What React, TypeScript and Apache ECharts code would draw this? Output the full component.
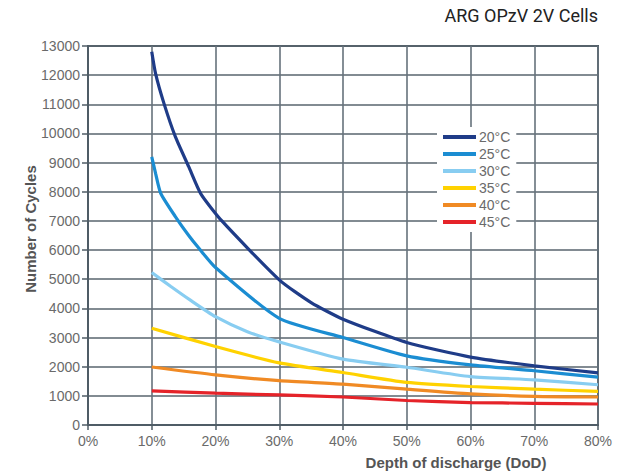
import React, { useEffect, useRef } from "react";
import * as echarts from "echarts";

const xTicks = [0, 10, 20, 30, 40, 50, 60, 70, 80];
const seriesNames = ["20°C", "25°C", "30°C", "35°C", "40°C", "45°C"];
const seriesColors = ["#1f3c88", "#1b8dd2", "#88cdf1", "#ffd200", "#f08a24", "#e52329"];

const dod20 = [10, 10.6, 11.9, 13.7, 15.8, 17.7, 21, 30, 35, 40, 50, 60, 70, 80];
const cyc20 = [12800, 12050, 11040, 9890, 8860, 7930, 7000, 4980, 4200, 3630, 2830, 2330, 2030, 1790];

const dod25 = [10, 10.6, 11.4, 13.7, 15.8, 17.4, 20, 30, 40, 50, 60, 70, 80];
const cyc25 = [9200, 8630, 7950, 7150, 6500, 6060, 5400, 3660, 3000, 2370, 2060, 1860, 1640];

const dod30 = [10, 13, 16, 20, 25, 30, 40, 50, 60, 70, 80];
const cyc30 = [5230, 4750, 4290, 3715, 3200, 2850, 2260, 1980, 1660, 1550, 1380];

const dod35 = [10, 20, 30, 40, 50, 60, 70, 80];
const cyc35 = [3320, 2690, 2130, 1800, 1460, 1320, 1230, 1150];

const dod40 = [10, 20, 30, 40, 50, 60, 70, 80];
const cyc40 = [1990, 1720, 1520, 1400, 1230, 1070, 980, 960];

const dod45 = [10, 20, 30, 40, 50, 60, 70, 80];
const cyc45 = [1170, 1090, 1030, 960, 840, 770, 745, 720];

const allX = [dod20, dod25, dod30, dod35, dod40, dod45];
const allY = [cyc20, cyc25, cyc30, cyc35, cyc40, cyc45];

export default function App() {
  const ref = useRef<HTMLDivElement>(null);
  useEffect(() => {
    if (!ref.current) return;
    const chart = echarts.init(ref.current, undefined, { renderer: "svg" });
    const series = seriesNames.map((name, i) => ({
      name,
      type: "line",
      data: allX[i].map((x, j) => [x, allY[i][j]]),
      showSymbol: false,
      symbol: "none",
      smooth: 0.2,
      lineStyle: { color: seriesColors[i], width: 3.2 },
      itemStyle: { color: seriesColors[i] },
      z: 10 - i,
    }));
    chart.setOption({
      animation: false,
      backgroundColor: "#fff",
      grid: {
        left: 88,
        right: 23,
        top: 46,
        bottom: 50,
        show: true,
        borderColor: "#4f5c66",
        borderWidth: 2,
      },
      legend: {
        orient: "vertical",
        left: 437,
        top: 127,
        backgroundColor: "#fff",
        padding: [3, 6, 3, 6],
        itemWidth: 33,
        itemHeight: 4,
        itemGap: 3,
        icon: "rect",
        data: seriesNames,
        textStyle: { color: "#6a6a6a", fontSize: 14, fontFamily: "Liberation Sans", padding: [0, 0, 0, -2] },
      },
      xAxis: {
        type: "value",
        min: 0,
        max: 80,
        interval: 10,
        axisLine: { show: true, lineStyle: { color: "#4f5c66", width: 2 } },
        axisTick: { show: true, length: 5, lineStyle: { color: "#4f5c66", width: 1.5 } },
        splitLine: { show: true, lineStyle: { color: "#66727b", width: 1.6 } },
        axisLabel: {
          formatter: (v: number) => (xTicks.includes(v) ? v + "%" : ""),
          color: "#6a6a6a",
          fontSize: 14,
          fontFamily: "Liberation Sans",
          margin: 9,
        },
      },
      yAxis: {
        type: "value",
        min: 0,
        max: 13000,
        interval: 1000,
        axisLine: { show: true, lineStyle: { color: "#4f5c66", width: 2 } },
        axisTick: { show: true, length: 6, lineStyle: { color: "#4f5c66", width: 1.5 } },
        splitLine: { show: true, lineStyle: { color: "#59656e", width: 1.6 } },
        axisLabel: {
          formatter: (v: number) => String(v),
          color: "#6a6a6a",
          fontSize: 14,
          fontFamily: "Liberation Sans",
          margin: 8,
        },
      },
      graphic: [
        {
          type: "text",
          right: 23,
          top: 6,
          style: {
            text: "ARG OPzV 2V Cells",
            fill: "#222",
            font: "normal 18px Roboto",
          },
        },
        {
          type: "text",
          x: 30,
          y: 229,
          rotation: Math.PI / 2,
          style: {
            text: "Number of Cycles",
            fill: "#555",
            font: "bold 15px 'Liberation Sans'",
            align: "center",
            verticalAlign: "middle",
          },
        },
        {
          type: "text",
          x: 456,
          y: 462,
          style: {
            text: "Depth of discharge (DoD)",
            fill: "#555",
            font: "bold 15px 'Liberation Sans'",
            align: "center",
            verticalAlign: "middle",
          },
        },
      ],
      series,
    });
    return () => chart.dispose();
  }, []);
  return (
    <div
      ref={ref}
      style={{ position: "fixed", left: 0, top: 0, width: 621, height: 475 }}
    />
  );
}
